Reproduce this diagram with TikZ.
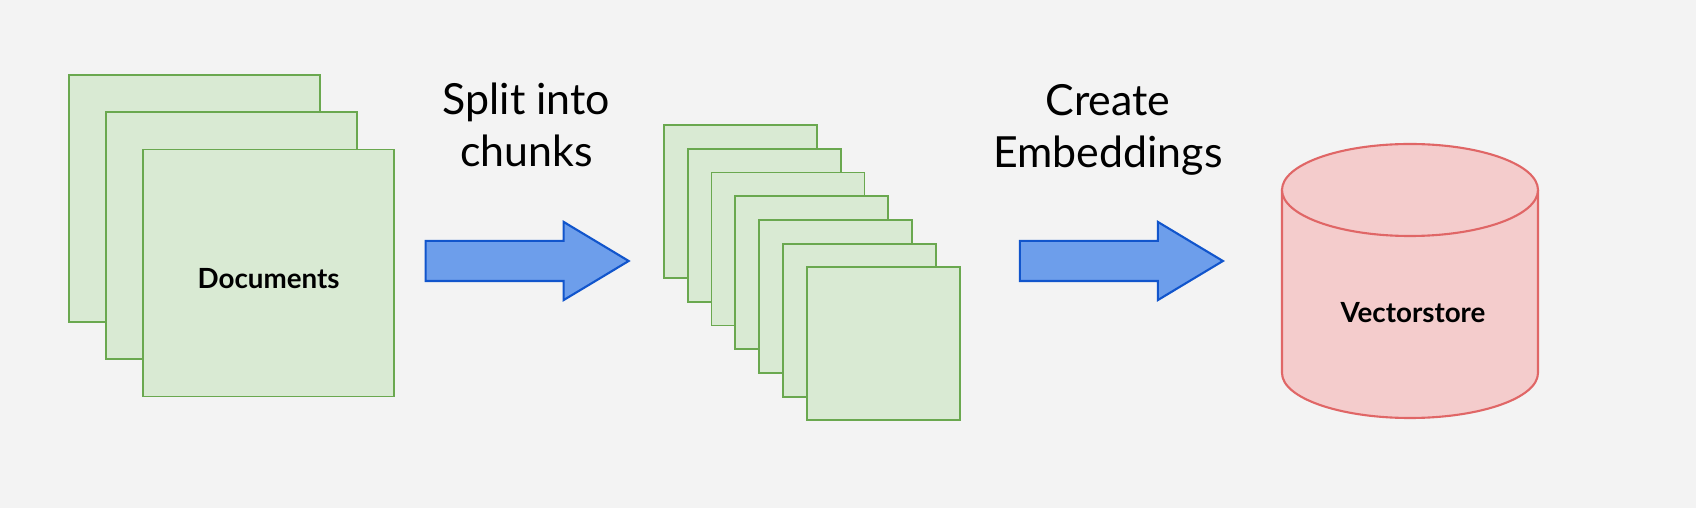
\documentclass[tikz,border=0pt]{standalone}
\usepackage{fontspec}
\setmainfont{Lato}
\usetikzlibrary{shapes.arrows}
\definecolor{bggray}{HTML}{F3F3F3}
\definecolor{pageline}{HTML}{6AA84F}
\definecolor{pagefill}{HTML}{D9EAD3}
\definecolor{arrowline}{HTML}{1155CC}
\definecolor{arrowfill}{HTML}{6D9EEB}
\definecolor{storeline}{HTML}{E06666}
\definecolor{storefill}{HTML}{F4CCCC}
\tikzstyle{page}=[rectangle,draw=pageline,fill=pagefill,line width=0.5pt,inner sep=0pt,anchor=north west]
\tikzstyle{bigpage}=[page,minimum width=2.51cm,minimum height=2.47cm,text height=0.30cm,text depth=0pt]
\tikzstyle{chunk}=[page,minimum width=1.53cm,minimum height=1.53cm]
\tikzstyle{blockarrow}=[single arrow,draw=arrowline,fill=arrowfill,line width=0.6pt,inner xsep=0pt,inner ysep=0.19cm,minimum height=2.03cm,single arrow head extend=0.19cm,single arrow head indent=0pt,single arrow tip angle=62]
\tikzstyle{caption}=[align=center,font=\fontsize{12.2}{14.8}\selectfont]
\tikzstyle{boldlabel}=[font=\fontsize{7.9}{9.5}\selectfont\bfseries]
\tikzstyle{store}=[draw=storeline,fill=storefill,line width=0.6pt]

\begin{document}
\begin{tikzpicture}

   \fill[bggray] (0,0) rectangle (16.96,5.08);
   \useasboundingbox (0,0) rectangle (16.96,5.08);

    \foreach \pos/\name/\text in {{(0.678,4.337)/doc1/}, {(1.050,3.965)/doc2/}, {(1.422,3.593)/doc3/Documents}}
        \node[bigpage,boldlabel] (\name) at \pos {\text};

    \foreach \i in {1,...,7}
        \node[chunk] (chunk\i) at ({6.63+0.238*(\i-1)},{3.837-0.237*(\i-1)}) {};

  \node[blockarrow] (split) at (5.105,2.47) {};
  \node[blockarrow] (embed) at (11.047,2.47) {};

  \node[caption] (splitlabel) at (5.265,3.83) {Split into\\chunks};
  \node[caption] (embedlabel) at (11.08,3.78) {Create\\Embeddings};

% vector store cylinder
   \draw[store] (12.82,3.18) -- (12.82,1.35) arc[start angle=180,end angle=360,x radius=1.28,y radius=0.45] -- (15.38,3.18) arc[start angle=0,end angle=180,x radius=1.28,y radius=0.46] -- cycle;
   \draw[store] (12.82,3.18) arc[start angle=180,end angle=360,x radius=1.28,y radius=0.46];
  \node[boldlabel,anchor=base] (store) at (14.13,1.85) {Vectorstore};

\end{tikzpicture}
\end{document}
